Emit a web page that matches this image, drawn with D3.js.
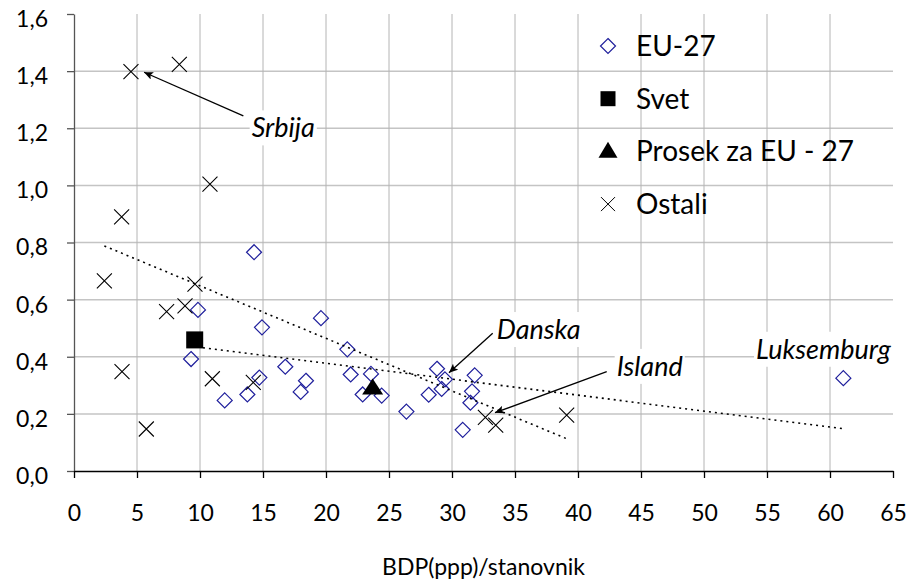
<!DOCTYPE html>
<html>
<head>
<meta charset="utf-8">
<script src="https://cdn.jsdelivr.net/npm/d3@7"></script>
<style>
  body { margin: 0; background: #fff; }
  text { font-family: Lato, "Open Sans", sans-serif; fill: #000; }
</style>
</head>
<body>
<script>
// [BDP(ppp)/stanovnik, vrednost]
var euData = [
    [9.84, 0.564], [14.29, 0.766], [14.92, 0.503], [19.60, 0.535], [21.69, 0.426],
    [9.29, 0.392], [14.71, 0.327], [16.77, 0.365], [18.41, 0.316], [17.99, 0.277],
    [11.96, 0.247], [13.76, 0.268], [21.96, 0.338], [23.57, 0.340], [22.91, 0.268],
    [24.42, 0.264], [26.38, 0.208], [28.15, 0.267], [28.81, 0.358], [29.44, 0.321],
    [29.18, 0.287], [31.80, 0.335], [31.59, 0.279], [31.46, 0.239], [30.85, 0.144],
    [61.06, 0.325]
];
var svetData = [[9.58, 0.459]];
var prosekData = [[23.7, 0.29]];
var ostaliData = [
    [4.52, 1.398], [8.36, 1.424], [10.79, 1.004], [3.78, 0.890], [2.41, 0.666],
    [9.60, 0.654], [8.81, 0.578], [7.35, 0.558], [3.81, 0.348], [10.98, 0.323],
    [14.23, 0.310], [5.74, 0.147], [32.65, 0.188], [33.47, 0.161], [39.10, 0.196]
];
// linear trend lines (end points)
var trendOstali = [[2.41, 0.788], [39.1, 0.113]];
var trendEU = [[9.29, 0.437], [61.06, 0.148]];

var xTicks = d3.range(0, 66, 5);
var yTicks = [0, 0.2, 0.4, 0.6, 0.8, 1.0, 1.2, 1.4, 1.6];
var legendNames = ["EU-27", "Svet", "Prosek za EU - 27", "Ostali"];

// annotations
var labelNames = ["Srbija", "Danska", "Island", "Luksemburg"];
var labelPos = [[14.1, 1.168], [33.55, 0.462], [43.07, 0.333], [54.13, 0.393]];
var arrowFrom = [[13.44, 1.243], [33.23, 0.482], [42.28, 0.348], null];
var arrowTo = [[5.56, 1.396], [29.76, 0.344], [33.41, 0.204], null];

var margin = { left: 74, top: 14 },
    width = 819,
    height = 457;

var svg = d3.select("body").append("svg")
            .attr("width", 911)
            .attr("height", 583);

svg.append("defs").append("marker")
   .attr("id", "arrow")
   .attr("markerUnits", "userSpaceOnUse")
   .attr("markerWidth", 10).attr("markerHeight", 8)
   .attr("refX", 9).attr("refY", 4)
   .attr("orient", "auto")
   .append("path")
   .attr("d", "M0,0L9,4L0,8L2,4Z")
   .attr("fill", "#000");

var g = svg.append("g")
           .attr("transform", "translate(" + margin.left + "," + margin.top + ")");

var x = d3.scaleLinear().domain([0, 65]).range([0, width]);
var y = d3.scaleLinear().domain([0, 1.6]).range([height, 0]);

// grid
g.append("g").classed("hgrid", true)
 .selectAll("line")
 .data(yTicks.filter(function(d) { return d > 0 && d < 1.6; }))
 .enter().append("line")
   .attr("x1", 0).attr("x2", width)
   .attr("y1", function(d) { return y(d); })
   .attr("y2", function(d) { return y(d); })
   .attr("stroke", "#c4c4c4").attr("stroke-width", 1.5);

g.append("g").classed("vgrid", true)
 .selectAll("line")
 .data(xTicks.filter(function(d) { return d > 0 && d < 65; }))
 .enter().append("line")
   .attr("x1", function(d) { return x(d); })
   .attr("x2", function(d) { return x(d); })
   .attr("y1", 0).attr("y2", height)
   .attr("stroke", "#b4b4b4").attr("stroke-width", 1);

// axes
var yAxis = g.append("g")
   .call(d3.axisLeft(y).tickValues(yTicks).tickSize(7).tickSizeOuter(0)
           .tickFormat(function(d) { return d3.format(".1f")(d).replace(".", ","); }));
yAxis.select(".domain").attr("stroke", "#555").attr("stroke-width", 1.3);
yAxis.selectAll(".tick line").attr("stroke", "#555").attr("stroke-width", 1.3);
yAxis.selectAll(".tick text")
     .attr("x", -26).attr("y", 5)
     .style("font-size", "23px").style("font-family", "Lato");

var xAxis = g.append("g")
   .attr("transform", "translate(0," + height + ")")
   .call(d3.axisBottom(x).tickValues(xTicks).tickSize(7).tickSizeOuter(0));
xAxis.select(".domain").attr("stroke", "#000").attr("stroke-width", 1.3);
xAxis.selectAll(".tick line").attr("stroke", "#000").attr("stroke-width", 1.3);
xAxis.selectAll(".tick text")
     .attr("y", 50).attr("dy", 0)
     .style("font-size", "23px").style("font-family", "Lato");

svg.append("text")
   .attr("x", margin.left + width / 2).attr("y", 575)
   .attr("text-anchor", "middle")
   .style("font-size", "23px")
   .text("BDP(ppp)/stanovnik");

// marker shapes
var diamond = "M0,-7.5L7.5,0L0,7.5L-7.5,0Z";
function cross(s) { return "M" + (-s) + "," + (-s) + "L" + s + "," + s + "M" + (-s) + "," + s + "L" + s + "," + (-s); }
function tri(w, h) { return "M0," + (-h * 0.6) + "L" + (w / 2) + "," + (h * 0.4) + "L" + (-w / 2) + "," + (h * 0.4) + "Z"; }

var pts = g.append("g").classed("points", true);

pts.selectAll("path.eu")
   .data(euData).enter().append("path")
   .classed("eu", true)
   .attr("transform", function(d) { return "translate(" + x(d[0]) + "," + y(d[1]) + ")"; })
   .attr("d", diamond)
   .attr("fill", "none").attr("stroke", "#1f1f9c").attr("stroke-width", 1.2);

pts.selectAll("rect.svet")
   .data(svetData).enter().append("rect")
   .classed("svet", true)
   .attr("x", function(d) { return x(d[0]) - 8.5; })
   .attr("y", function(d) { return y(d[1]) - 8.5; })
   .attr("width", 17).attr("height", 17)
   .attr("fill", "#000");

pts.selectAll("path.prosek")
   .data(prosekData).enter().append("path")
   .classed("prosek", true)
   .attr("transform", function(d) { return "translate(" + x(d[0]) + "," + y(d[1]) + ")"; })
   .attr("d", tri(21, 16))
   .attr("fill", "#000");

pts.selectAll("path.ostali")
   .data(ostaliData).enter().append("path")
   .classed("ostali", true)
   .attr("transform", function(d) { return "translate(" + x(d[0]) + "," + y(d[1]) + ")"; })
   .attr("d", cross(7.5))
   .attr("fill", "none").attr("stroke", "#000").attr("stroke-width", 1.1);

// trend lines
var line = d3.line().x(function(d) { return x(d[0]); }).y(function(d) { return y(d[1]); });
g.selectAll("path.trend")
 .data([trendOstali, trendEU]).enter().append("path")
 .classed("trend", true)
 .attr("d", line)
 .attr("fill", "none").attr("stroke", "#000")
 .attr("stroke-width", 1.6).attr("stroke-dasharray", "2,4");

// annotations: white box behind the text, then arrow
var ann = g.append("g").classed("annotations", true);
labelNames.forEach(function(name, i) {
    var box = ann.append("rect").attr("fill", "#fff");
    var t = ann.append("text")
       .attr("x", x(labelPos[i][0])).attr("y", y(labelPos[i][1]))
       .style("font-size", "27px").style("font-style", "italic")
       .text(name);
    var bb = t.node().getBBox();
    box.attr("x", bb.x - 2).attr("y", bb.y).attr("width", bb.width + 4).attr("height", bb.height + 2);
    if (arrowFrom[i]) {
        ann.append("line")
           .attr("x1", x(arrowFrom[i][0])).attr("y1", y(arrowFrom[i][1]))
           .attr("x2", x(arrowTo[i][0])).attr("y2", y(arrowTo[i][1]))
           .attr("stroke", "#000").attr("stroke-width", 1.3)
           .attr("marker-end", "url(#arrow)");
    }
});

// legend
var leg = svg.append("g").attr("transform", "translate(608,46)");
var rows = leg.selectAll("g").data(legendNames).enter().append("g")
   .attr("transform", function(d, i) { return "translate(0," + (i * 52.7) + ")"; });
rows.append("path")
   .attr("d", function(d, i) {
       if (i == 0) return diamond;
       if (i == 1) return "M-7.5,-7.5H7.5V7.5H-7.5Z";
       if (i == 2) return tri(19, 16);
       return cross(7);
   })
   .attr("fill", function(d, i) { return (i == 1 || i == 2) ? "#000" : "none"; })
   .attr("stroke", function(d, i) { return i == 0 ? "#1f1f9c" : (i == 3 ? "#000" : "none"); })
   .attr("stroke-width", function(d, i) { return i == 0 ? 1.2 : 1; });
rows.append("text")
   .attr("x", 28).attr("dy", "0.35em")
   .style("font-size", "28px")
   .text(function(d) { return d; });
</script>
</body>
</html>
